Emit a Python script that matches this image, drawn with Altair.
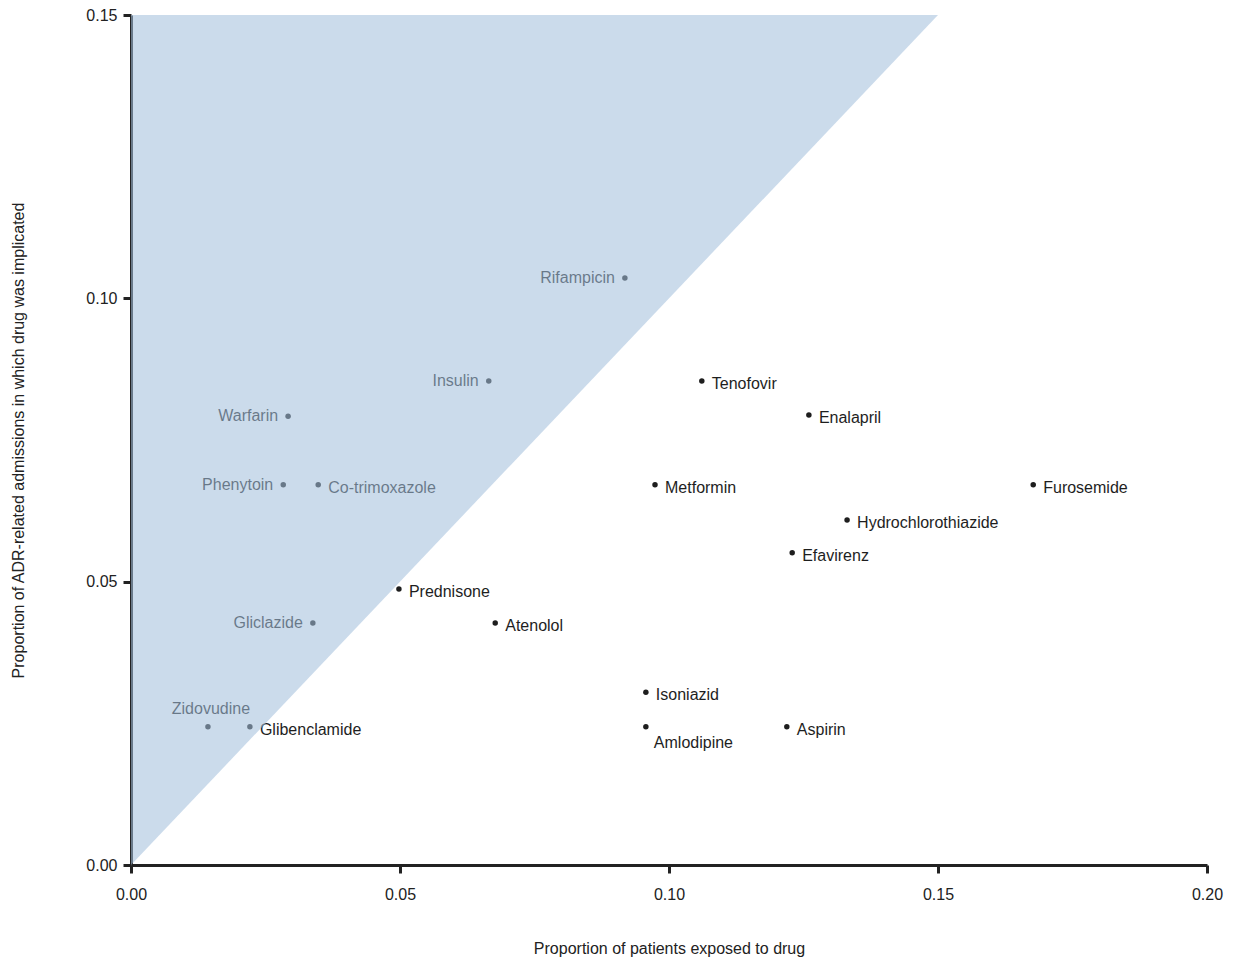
import altair as alt
import pandas as pd

# Drug-level exposure vs. implication in ADR-related admissions
drugs = [
    "Rifampicin", "Insulin", "Warfarin", "Phenytoin", "Co-trimoxazole",
    "Prednisone", "Gliclazide", "Zidovudine", "Glibenclamide", "Atenolol",
    "Tenofovir", "Enalapril", "Metformin", "Furosemide", "Hydrochlorothiazide",
    "Efavirenz", "Isoniazid", "Amlodipine", "Aspirin",
]
exposed = [
    0.0918, 0.0665, 0.0292, 0.0283, 0.0348,
    0.0498, 0.0338, 0.0143, 0.0221, 0.0677,
    0.1061, 0.1260, 0.0974, 0.1677, 0.1331,
    0.1229, 0.0957, 0.0957, 0.1219,
]
implicated = [
    0.1036, 0.0854, 0.0792, 0.0671, 0.0671,
    0.0487, 0.0427, 0.0244, 0.0244, 0.0427,
    0.0854, 0.0794, 0.0671, 0.0671, 0.0609,
    0.0551, 0.0305, 0.0244, 0.0244,
]
# where each label sits relative to its point
placement = [
    "left", "left", "left", "left", "right",
    "right", "left", "above", "right", "right",
    "right", "right", "right", "right", "right",
    "right", "right", "below", "right",
]

x_ticks = [0.0, 0.05, 0.10, 0.15, 0.20]
y_ticks = [0.0, 0.05, 0.10, 0.15]

df = pd.DataFrame({"drug": drugs, "exposed": exposed,
                   "implicated": implicated, "place": placement})

# region above the line of equality (implicated share > exposed share)
diag = pd.DataFrame({"exposed": [0.0, 0.15], "top": [0.15, 0.15],
                     "bottom": [0.0, 0.15]})

FONT = "Liberation Sans"
xs = alt.Scale(domain=[0, 0.20], nice=False)
ys = alt.Scale(domain=[0, 0.15], nice=False)

x_enc = alt.X("exposed:Q", scale=xs, axis=alt.Axis(
    title="Proportion of patients exposed to drug", values=x_ticks,
    format=".2f", grid=False, domainWidth=3, domainColor="#222222",
    tickWidth=3, tickSize=8, tickColor="#222222", labelPadding=13,
    labelFlush=False, labelFontSize=16, labelColor="#222222", labelFont=FONT,
    titleFont=FONT, titleFontSize=16, titleFontWeight="normal",
    titleColor="#222222", titlePadding=38))
y_enc = alt.Y("implicated:Q", scale=ys, axis=alt.Axis(
    title="Proportion of ADR-related admissions in which drug was implicated",
    values=y_ticks, format=".2f", grid=False, domainWidth=3,
    domainColor="#222222", tickWidth=3, tickSize=8, tickColor="#222222",
    labelPadding=6, labelFlush=False, labelFontSize=16, labelColor="#222222",
    labelFont=FONT, titleFont=FONT, titleFontSize=16, titleFontWeight="normal",
    titleColor="#222222", titlePadding=59))

points = alt.Chart(df).mark_circle(size=30, color="#1e1e1e", opacity=1).encode(
    x=x_enc, y=y_enc)

base_txt = dict(fontSize=16, font=FONT, color="#1e1e1e", baseline="middle")

lab_right = alt.Chart(df).transform_filter(alt.datum.place == "right").mark_text(
    align="left", dx=10, dy=3, **base_txt).encode(
    x="exposed:Q", y="implicated:Q", text="drug:N")
lab_left = alt.Chart(df).transform_filter(alt.datum.place == "left").mark_text(
    align="right", dx=-10, dy=0, **base_txt).encode(
    x="exposed:Q", y="implicated:Q", text="drug:N")
lab_above = alt.Chart(df).transform_filter(alt.datum.place == "above").mark_text(
    align="center", dx=3, dy=-18, **base_txt).encode(
    x="exposed:Q", y="implicated:Q", text="drug:N")
lab_below = alt.Chart(df).transform_filter(alt.datum.place == "below").mark_text(
    align="left", dx=8, dy=16, **base_txt).encode(
    x="exposed:Q", y="implicated:Q", text="drug:N")

shade = alt.Chart(diag).mark_area(color="#a3bedb", opacity=0.56).encode(
    x=alt.X("exposed:Q", scale=xs),
    y=alt.Y("top:Q", scale=ys),
    y2="bottom:Q")

chart = alt.layer(points, lab_right, lab_left, lab_above, lab_below, shade).properties(
    width=1076, height=850, background="white",
    padding={"left": 131, "top": 15, "right": 29, "bottom": 94},
    autosize=alt.AutoSizeParams(type="none"),
).configure_view(strokeWidth=0)

chart.save("out.html", embed_options={"renderer": "svg", "actions": False})
